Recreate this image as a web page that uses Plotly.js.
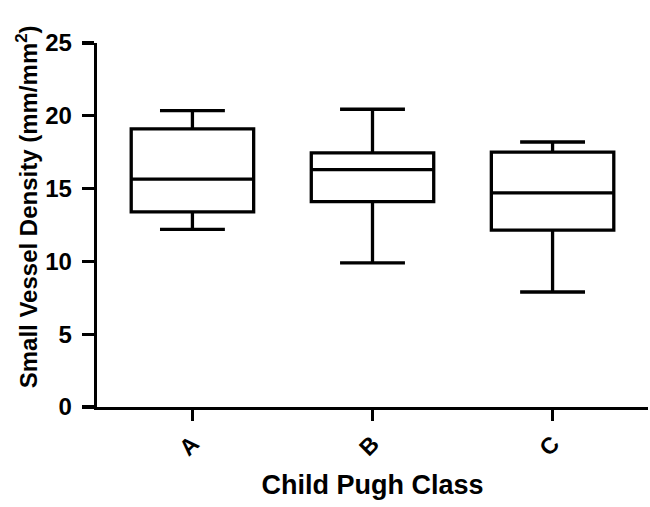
<!DOCTYPE html>
<html>
<head>
<meta charset="utf-8">
<script src="https://cdn.plot.ly/plotly-3.0.1.min.js"></script>
<style>html,body{margin:0;padding:0;background:#fff}#chart{width:650px;height:507px}</style>
</head>
<body>
<div id="chart"></div>
<script>
var categories = ["A", "B", "C"];
var lowerWhisker = [12.2, 9.9, 7.9];
var q1Values = [13.4, 14.1, 12.15];
var medianValues = [15.65, 16.3, 14.7];
var q3Values = [19.1, 17.45, 17.5];
var upperWhisker = [20.35, 20.45, 18.2];
var yTicks = [0, 5, 10, 15, 20, 25];
var xTitle = "Child Pugh Class";
var yTitle = "Small Vessel Density (mm/mm<sup>2</sup>)";

var fontFam = "Liberation Sans, Arial, Helvetica, sans-serif";

var trace = {
  type: "box",
  x: categories,
  lowerfence: lowerWhisker,
  q1: q1Values,
  median: medianValues,
  q3: q3Values,
  upperfence: upperWhisker,
  width: 0.68,
  whiskerwidth: 0.53,
  line: {color: "#000", width: 3.3},
  fillcolor: "rgba(255,255,255,0)",
  boxpoints: false,
  hoverinfo: "skip"
};

var layout = {
  width: 650, height: 507,
  margin: {l: 97, r: 2, t: 43, b: 100},
  paper_bgcolor: "#fff", plot_bgcolor: "#fff",
  showlegend: false,
  font: {family: fontFam, color: "#000"},
  xaxis: {
    type: "category",
    range: [-0.53, 2.53],
    showline: true, linecolor: "#000", linewidth: 3.3,
    ticks: "outside", ticklen: 11, tickwidth: 3.3, tickcolor: "#000",
    tickangle: -45,
    tickfont: {family: fontFam, size: 23, weight: "bold", color: "#000"},
    showgrid: false, zeroline: false,
    title: {text: xTitle, font: {family: fontFam, size: 27, weight: "bold", color: "#000"}, standoff: 16}
  },
  yaxis: {
    range: [0, 25],
    tickvals: yTicks,
    ticktext: yTicks.map(String),
    showline: true, linecolor: "#000", linewidth: 3.3,
    ticks: "outside", ticklen: 12, tickwidth: 3.3, tickcolor: "#000",
    ticklabelstandoff: 5,
    tickfont: {family: fontFam, size: 24, weight: "bold", color: "#000"},
    showgrid: false, zeroline: false
  },
  annotations: [{
    text: yTitle,
    textangle: -90,
    xref: "paper", yref: "paper",
    x: -0.128, y: 0.55,
    xanchor: "center", yanchor: "middle",
    showarrow: false,
    font: {family: fontFam, size: 24, weight: "bold", color: "#000"}
  }]
};

Plotly.newPlot("chart", [trace], layout, {displayModeBar: false, staticPlot: true});
</script>
</body>
</html>
